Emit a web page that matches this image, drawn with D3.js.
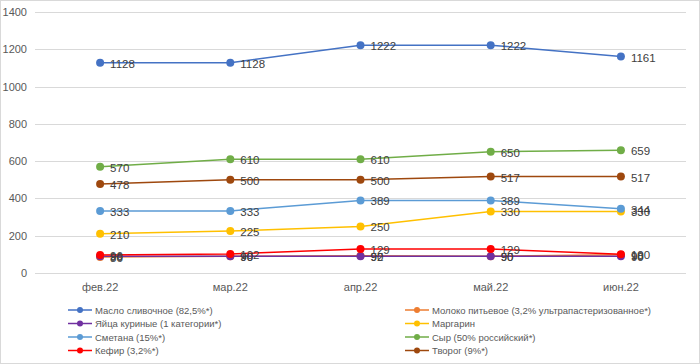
<!DOCTYPE html>
<html>
<head>
<meta charset="utf-8">
<script src="https://cdn.jsdelivr.net/npm/d3@7"></script>
<style>
  body { margin: 0; background: #fff; }
  text { font-family: "Liberation Sans Narrow", "Liberation Sans", sans-serif; }
</style>
</head>
<body>
<div class="chart"></div>
<script>
const months = ['фев.22', 'мар.22', 'апр.22', 'май.22', 'июн.22'];
const yTicks = [0, 200, 400, 600, 800, 1000, 1200, 1400];

const seriesNames = [
  'Масло сливочное (82,5%*)',
  'Молоко питьевое (3,2% ультрапастеризованное*)',
  'Яйца куриные (1 категории*)',
  'Маргарин',
  'Сметана (15%*)',
  'Сыр (50% российский*)',
  'Кефир (3,2%*)',
  'Творог (9%*)'
];
const butter    = [1128, 1128, 1222, 1222, 1161];
const milk      = [86, 90, 92, 90, 98];
const eggs      = [90, 90, 90, 90, 90];
const margarine = [210, 225, 250, 330, 330];
const smetana   = [333, 333, 389, 389, 344];
const cheese    = [570, 610, 610, 650, 659];
const kefir     = [96, 102, 129, 129, 100];
const tvorog    = [478, 500, 500, 517, 517];

const seriesValues = [butter, milk, eggs, margarine, smetana, cheese, kefir, tvorog];
const colors = ['#4472C4', '#ED7D31', '#7030A0', '#FFC000', '#5B9BD5', '#70AD47', '#FF0000', '#9E480E'];

const series = seriesNames.map((name, i) => ({name, values: seriesValues[i], color: colors[i]}));

const W = 700, H = 364;
const margin = {top: 12, right: 14, bottom: 91, left: 35};

const svg = d3.select('.chart').append('svg')
  .attr('width', W)
  .attr('height', H);

// chart border
svg.append('rect')
  .attr('x', 0.5).attr('y', 0.5)
  .attr('width', W - 1).attr('height', H - 1)
  .attr('fill', '#fff')
  .attr('stroke', '#d9d9d9');

const x = d3.scaleBand()
  .domain(months)
  .range([margin.left, W - margin.right]);

const y = d3.scaleLinear()
  .domain([0, 1400])
  .range([273, margin.top]);

// gridlines
svg.append('g')
  .selectAll('line')
  .data(yTicks)
  .enter()
  .append('line')
  .attr('x1', margin.left)
  .attr('x2', W - margin.right)
  .attr('y1', d => Math.round(y(d)) + 0.5)
  .attr('y2', d => Math.round(y(d)) + 0.5)
  .attr('stroke', '#d9d9d9')
  .attr('stroke-width', 1);

// y axis labels
const yAxis = d3.axisLeft(y).tickValues(yTicks).tickFormat(d3.format('d')).tickSize(0).tickPadding(0);
svg.append('g')
  .attr('transform', 'translate(27,0)')
  .call(yAxis)
  .call(g => g.select('.domain').remove())
  .selectAll('text')
  .attr('fill', '#595959')
  .style('font-size', '11px');

// x axis labels
const xAxis = d3.axisBottom(x).tickSize(0).tickPadding(0);
svg.append('g')
  .attr('transform', 'translate(0,283)')
  .call(xAxis)
  .call(g => g.select('.domain').remove())
  .selectAll('text')
  .attr('fill', '#595959')
  .style('font-size', '11px');

const cx = m => x(m) + x.bandwidth() / 2;

const line = d3.line()
  .x((d, i) => cx(months[i]))
  .y(d => y(d));

series.forEach(s => {
  const g = svg.append('g');
  g.append('path')
    .datum(s.values)
    .attr('d', line)
    .attr('fill', 'none')
    .attr('stroke', s.color)
    .attr('stroke-width', 1.5);
  g.selectAll('circle')
    .data(s.values)
    .enter()
    .append('circle')
    .attr('cx', (d, i) => cx(months[i]))
    .attr('cy', d => y(d))
    .attr('r', 4)
    .attr('fill', s.color);
});

// data labels
series.forEach(s => {
  svg.append('g')
    .selectAll('text')
    .data(s.values)
    .enter()
    .append('text')
    .attr('x', (d, i) => cx(months[i]) + 10)
    .attr('y', d => y(d) + 5)
    .attr('fill', '#404040')
    .style('font-size', '11.5px')
    .text(d => d);
});

// legend
const legend = svg.append('g');
series.forEach((s, i) => {
  const col = i % 2, row = Math.floor(i / 2);
  const lx = col === 0 ? 68 : 405;
  const ly = 310 + row * 13.5;
  const item = legend.append('g').attr('transform', `translate(${lx},${ly})`);
  item.append('line')
    .attr('x1', 0).attr('x2', 24)
    .attr('y1', 0).attr('y2', 0)
    .attr('stroke', s.color)
    .attr('stroke-width', 1.5);
  item.append('circle')
    .attr('cx', 12).attr('cy', 0).attr('r', 3)
    .attr('fill', s.color);
  item.append('text')
    .attr('x', 27).attr('y', 3.5)
    .attr('fill', '#595959')
    .style('font-size', '9.5px')
    .text(s.name);
});
</script>
</body>
</html>
